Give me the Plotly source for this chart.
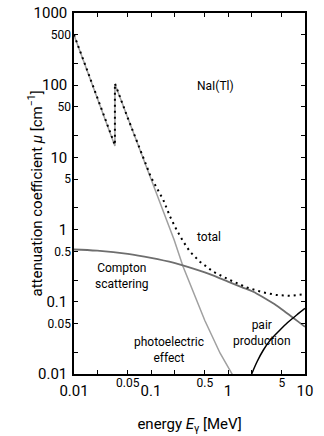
import numpy as np
import plotly.graph_objects as go

# ---- data ----
photo_E = [0.01, 0.02, 0.034, 0.034, 0.05, 0.1, 0.15, 0.2, 0.26, 0.35, 0.5, 0.79, 1.15, 1.5]
photo_mu = [495, 68, 14.4, 104, 35, 4.9, 1.6, 0.72, 0.31, 0.143, 0.055, 0.0194, 0.01, 0.0059]

compton_E = [0.01, 0.02, 0.05, 0.1, 0.2, 0.3, 0.5, 0.79, 1.0, 1.5, 2.13, 3.0, 4.0, 5.78, 8.0, 10.0]
compton_mu = [0.53, 0.51, 0.46, 0.405, 0.345, 0.305, 0.255, 0.211, 0.19, 0.16, 0.138, 0.112, 0.093, 0.07, 0.054, 0.045]

pair_E = [1.8, 2.03, 2.4, 2.88, 3.5, 4.73, 6.0, 7.8, 10.0]
pair_mu = [0.0072, 0.01, 0.015, 0.0215, 0.029, 0.0407, 0.052, 0.0656, 0.081]

total_E = [0.01, 0.02, 0.034, 0.034, 0.05, 0.1, 0.1445, 0.177, 0.215, 0.263, 0.321, 0.432, 0.644,
           1.06, 1.75, 2.88, 4.29, 6.38, 10.0]
total_mu = [500, 69, 14.8, 106, 35, 5.3, 2.57, 1.51, 0.99, 0.68, 0.494, 0.359, 0.261,
            0.200, 0.158, 0.135, 0.124, 0.121, 0.128]

x_major_vals = [0.01, 0.1, 1, 10]
x_major_text = ["0.01", "0.1", "1", "10"]
x_minor_vals = [0.05, 0.5, 5]
x_minor_text = ["0.05", "0.5", "5"]
x_small_ticks = [0.02, 0.05, 0.2, 0.5, 2, 5]

y_major_vals = [0.01, 0.1, 1, 10, 100, 1000]
y_major_text = ["0.01", "0.1", "1", "10", "100", "1000"]
y_minor_vals = [0.05, 0.5, 5, 50, 500]
y_minor_text = ["0.05", "0.5", "5", "50", "500"]
y_small_ticks = [0.02, 0.05, 0.2, 0.5, 2, 5, 20, 50, 200, 500]

FONT = "Roboto, Liberation Sans, sans-serif"

fig = go.Figure()
fig.add_trace(go.Scatter(x=photo_E, y=photo_mu, mode="lines",
                         line=dict(color="#a0a0a0", width=1.5), showlegend=False))
fig.add_trace(go.Scatter(x=compton_E, y=compton_mu, mode="lines", line_shape="spline",
                         line=dict(color="#6e6e6e", width=1.8), showlegend=False))
fig.add_trace(go.Scatter(x=pair_E, y=pair_mu, mode="lines", line_shape="spline",
                         line=dict(color="black", width=1.5), showlegend=False))
fig.add_trace(go.Scatter(x=total_E, y=total_mu, mode="lines",
                         line=dict(color="black", width=2, dash="2px,4px"), showlegend=False))
# invisible trace to carry the secondary label axes
fig.add_trace(go.Scatter(x=[0.01], y=[0.01], xaxis="x2", yaxis="y2", mode="markers",
                         marker=dict(opacity=0), hoverinfo="skip", showlegend=False))

axis_common = dict(type="log", showgrid=False, zeroline=False, showline=True,
                   linecolor="black", linewidth=1.5, mirror="ticks", ticks="inside",
                   ticklen=4, tickwidth=1.2, tickcolor="black", automargin=False,
                   ticklabeloverflow="allow")

fig.update_layout(
    width=324, height=436,
    margin=dict(l=74, r=19, t=13, b=62),
    paper_bgcolor="white", plot_bgcolor="white",
    font=dict(family=FONT, color="black"),
    xaxis=dict(**axis_common, range=[-2, 1], tickmode="array",
               tickvals=x_major_vals, ticktext=x_major_text,
               minor=dict(tickvals=x_small_ticks, ticks="inside", ticklen=4,
                          tickwidth=1.2, tickcolor="black", showgrid=False),
               tickfont=dict(size=15), ticklabelstandoff=2,
               title=dict(text="energy <i>E</i><sub>γ</sub> [MeV]", font=dict(size=15), standoff=20)),
    yaxis=dict(**axis_common, range=[-2, 3], tickmode="array",
               tickvals=y_major_vals, ticktext=y_major_text,
               minor=dict(tickvals=y_small_ticks, ticks="inside", ticklen=4,
                          tickwidth=1.2, tickcolor="black", showgrid=False),
               tickfont=dict(size=15), ticklabelstandoff=2),
    xaxis2=dict(type="log", range=[-2, 1], overlaying="x", anchor="y", side="bottom",
                showgrid=False, zeroline=False, showline=False, ticks="", automargin=False,
                tickmode="array", tickvals=x_minor_vals, ticktext=x_minor_text,
                tickfont=dict(size=12), ticklabelstandoff=0),
    yaxis2=dict(type="log", range=[-2, 3], overlaying="y", anchor="x", side="left",
                showgrid=False, zeroline=False, showline=False, ticks="", automargin=False,
                tickmode="array", tickvals=y_minor_vals, ticktext=y_minor_text,
                tickfont=dict(size=12), ticklabelstandoff=2),
)

# y-axis title placed as rotated text left of the tick labels
fig.add_annotation(x=-39 / 231, y=0.5, xref="paper", yref="paper",
                   text="attenuation coefficient <i>μ</i> [cm<sup>−1</sup>]",
                   textangle=-90, showarrow=False, xanchor="center", yanchor="middle",
                   font=dict(family=FONT, size=15, color="black"))

ann_font = dict(family=FONT, size=12, color="black")
labels = [
    ("NaI(Tl)", 0.372, 97.6, "left"),
    ("total", 0.372, 0.79, "left"),
    ("Compton<br>scattering", 0.042, 0.228, "center"),
    ("photoelectric<br>effect", 0.169, 0.0215, "center"),
    ("pair<br>production", 2.77, 0.037, "center"),
]
for text, xv, yv, anchor in labels:
    fig.add_annotation(x=np.log10(xv), y=np.log10(yv), xref="x", yref="y", text=text,
                       showarrow=False, xanchor=anchor, yanchor="middle", align="center",
                       font=ann_font)

fig.write_html("out.html", config={"displayModeBar": False},
               post_script="document.body.style.margin='0';")
